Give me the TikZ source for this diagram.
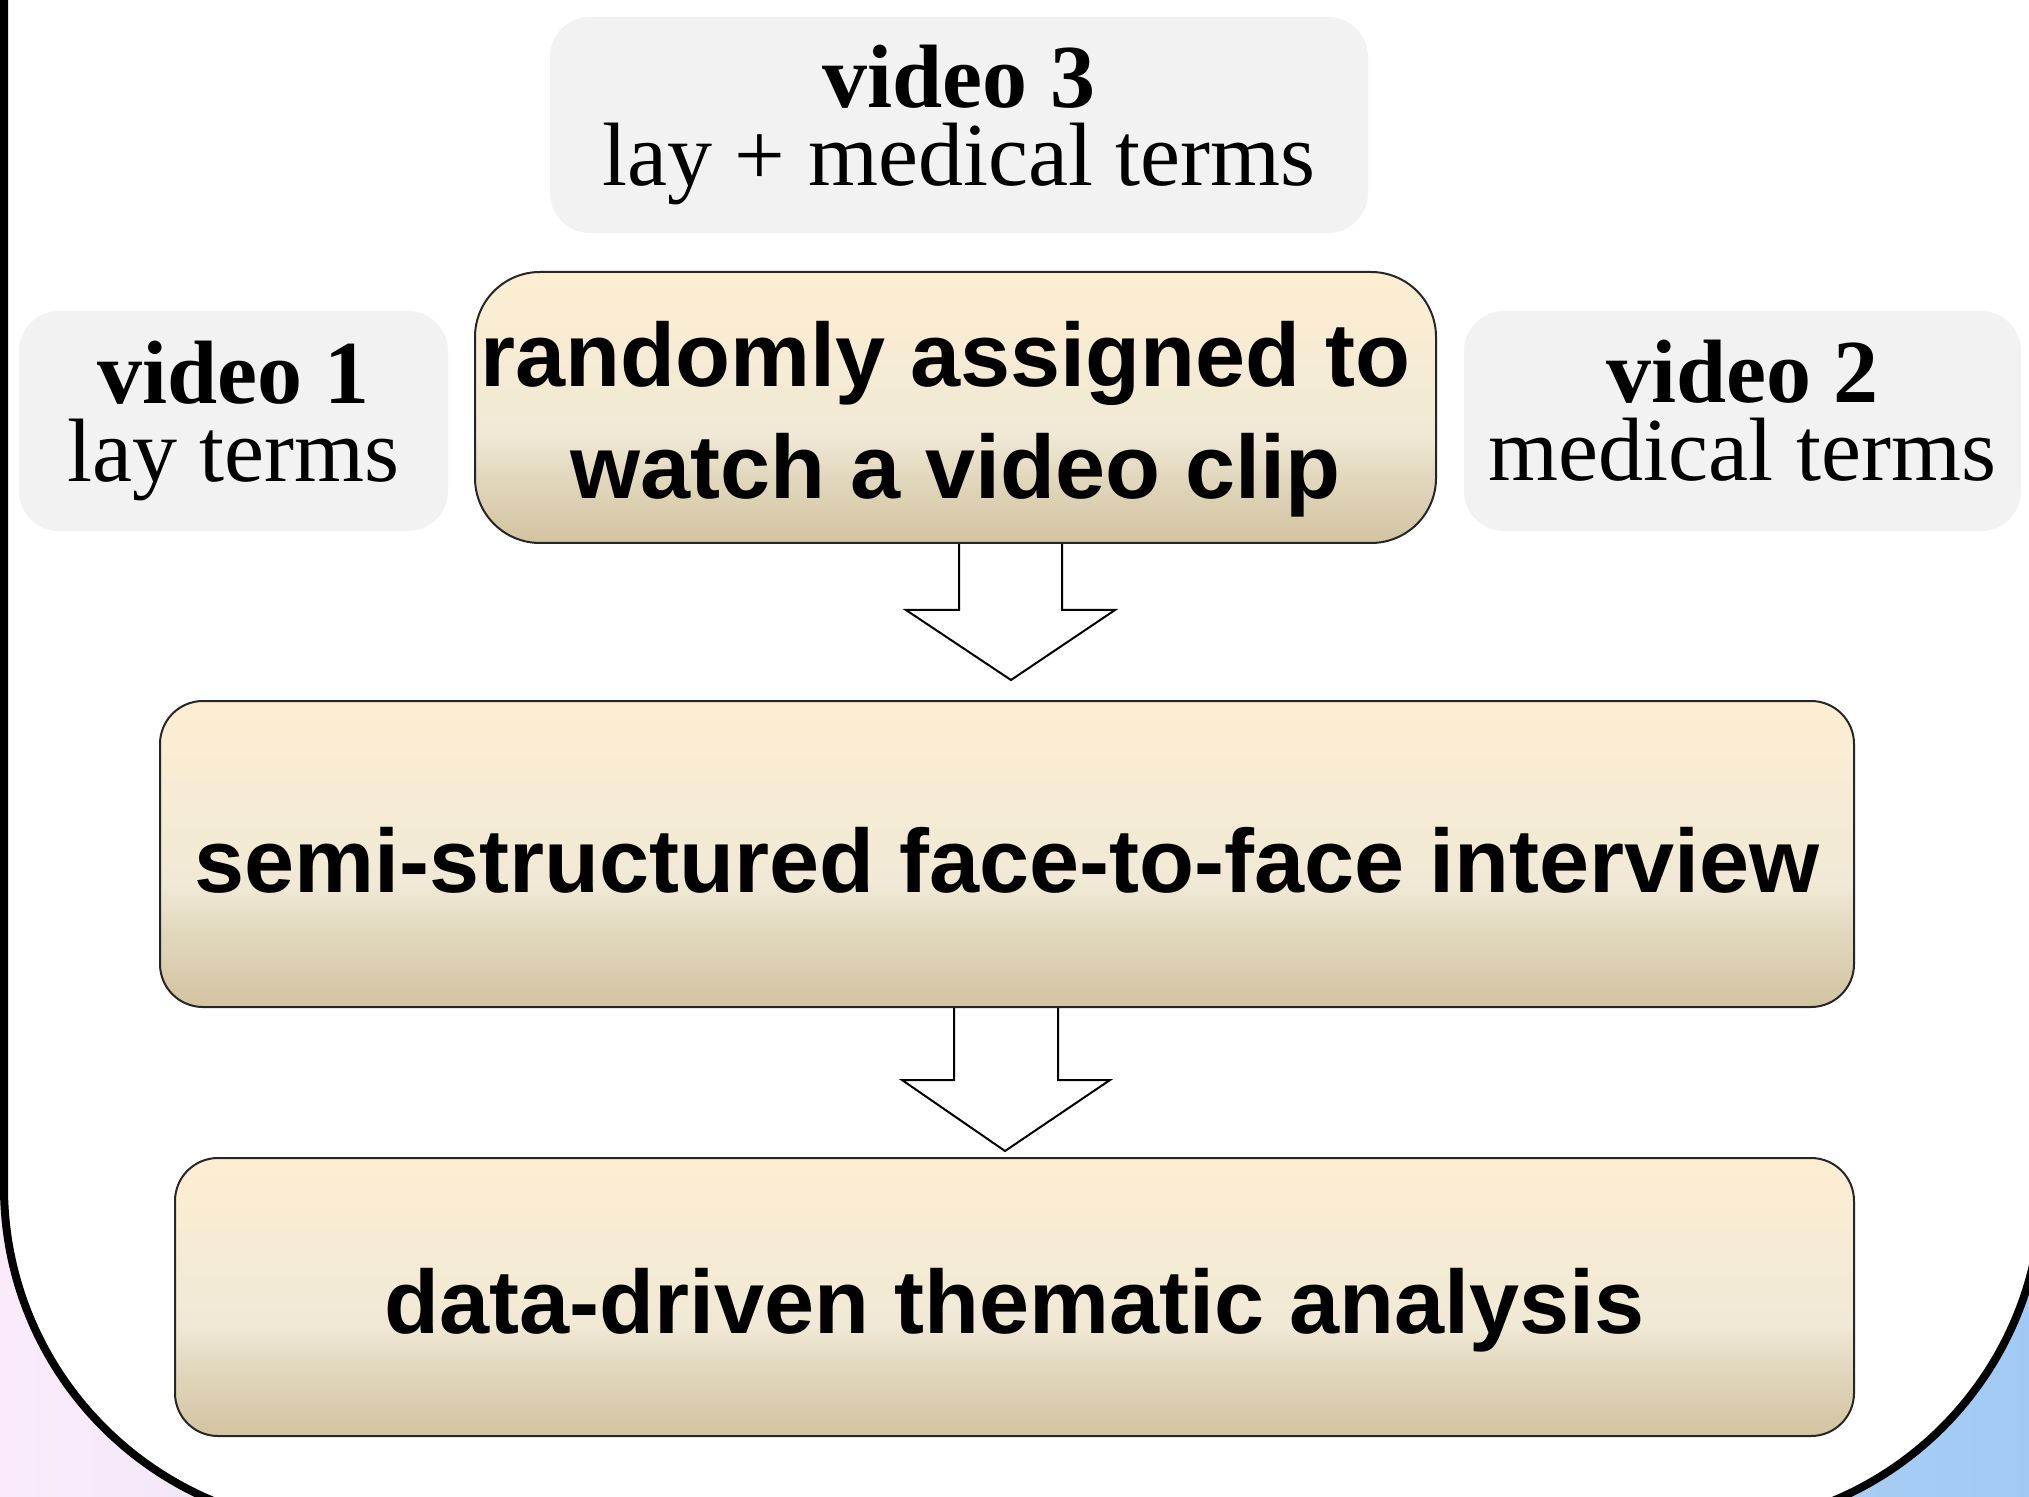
\documentclass[tikz,border=0pt]{standalone}
\usepackage{fontspec}
\setmainfont{Liberation Serif}
\newfontfamily\boxfont{Liberation Sans}
\usetikzlibrary{calc}
\definecolor{btop}{RGB}{253,238,210}
\definecolor{bmid}{RGB}{240,233,213}
\definecolor{bq}{RGB}{226,216,190}
\definecolor{bbot}{RGB}{210,196,160}
\definecolor{graybox}{RGB}{242,242,242}
\definecolor{bgleft}{RGB}{251,235,250}
\definecolor{bgright}{RGB}{160,202,244}
\pgfdeclareverticalshading{boxshade}{100bp}{color(0bp)=(bbot); color(25bp)=(bbot); color(37.5bp)=(bq); color(45bp)=(bmid); color(75bp)=(btop); color(100bp)=(btop)}
\pgfdeclarelayer{bg}
\pgfdeclarelayer{arr}
\pgfsetlayers{bg,arr,main}
\begin{document}
\begin{tikzpicture}[x=0.5pt,y=-0.5pt,
  stepbox/.style={draw=black!85, line width=1pt, shading=boxshade, rounded corners=#1, align=center, inner sep=0pt, font=\boxfont\bfseries\fontsize{45}{55.8}\selectfont},
  vidbox/.style={fill=graybox, rounded corners=20pt, align=center, inner sep=0pt, font=\fontsize{45}{39}\selectfont},
  blockarr/.style={draw=black, fill=white, line width=1pt, line join=miter},
  frameline/.style={line width=4pt, rounded corners=170pt}]
\useasboundingbox (0,0) rectangle (2029,1497);
% nodes
\node[vidbox, minimum width=409pt, minimum height=108pt] (v3) at (959,125) {\textbf{video 3}\\lay + medical terms};
\node[vidbox, minimum width=214.5pt, minimum height=110pt] (v1) at (233.5,421) {\textbf{video 1}\\lay terms};
\node[vidbox, minimum width=278.5pt, minimum height=110pt] (v2) at (1742.5,421) {\textbf{video 2}\\medical terms\rule[-10.4pt]{0pt}{10.4pt}};
\node[stepbox=32.5pt, minimum width=480.5pt, minimum height=135.5pt] (rand) at (955.5,407.5) {\rule{0pt}{44.6pt}randomly assigned to\hspace*{10pt}\\watch a video clip};
\node[stepbox=21.5pt, minimum width=847pt, minimum height=153pt] (sem) at (1007,854) {\rule{0pt}{39.2pt}semi-structured face-to-face interview};
\node[stepbox=21.5pt, minimum width=839.5pt, minimum height=139pt] (data) at (1014.5,1297) {\rule{0pt}{45.8pt}data-driven thematic analysis};
% background and frame
\begin{pgfonlayer}{bg}
\shade[left color=bgleft, right color=bgright] (0,0) rectangle (2029,1497);
\fill[white, rounded corners=170pt] (4,-800) -- (4,1527) -- (2042,1527) -- (2042,-800) -- cycle;
\draw[frameline] (4,-800) -- (4,1527) -- (2042,1527) -- (2042,-800);
\end{pgfonlayer}
% block arrows
\begin{pgfonlayer}{arr}
\draw[blockarr] ($(rand.south)+(3.5,0)$) -- ++(0,66) -- ++(-53,0) -- ++(105,70) -- ++(104,-70) -- ++(-53,0) -- ++(0,-66);
\draw[blockarr] ($(sem.south)+(-53,0)$) -- ++(0,72) -- ++(-52,0) -- ++(103,71) -- ++(105,-71) -- ++(-52,0) -- ++(0,-72);
\end{pgfonlayer}
\end{tikzpicture}
\end{document}
